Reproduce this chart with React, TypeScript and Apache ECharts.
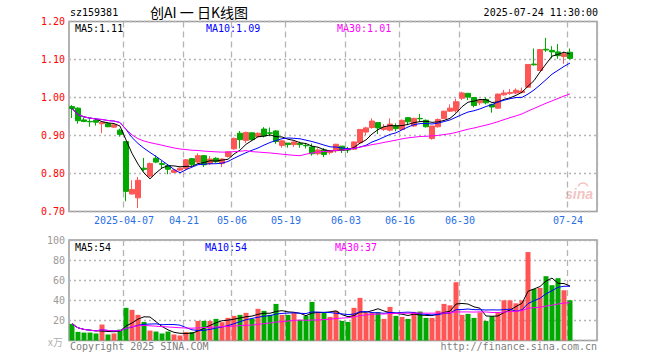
import React, { useEffect, useRef } from 'react';
import * as echarts from 'echarts';

const dates = [
  '03-24','03-25','03-26','03-27','03-28','03-31','04-01','04-02','04-03','04-07',
  '04-08','04-09','04-10','04-11','04-14','04-15','04-16','04-17','04-18','04-21',
  '04-22','04-23','04-24','04-25','04-28','04-29','04-30','05-06','05-07','05-08',
  '05-09','05-12','05-13','05-14','05-15','05-16','05-19','05-20','05-21','05-22',
  '05-23','05-26','05-27','05-28','05-29','05-30','06-03','06-04','06-05','06-06',
  '06-09','06-10','06-11','06-12','06-13','06-16','06-17','06-18','06-19','06-20',
  '06-23','06-24','06-25','06-26','06-27','06-30','07-01','07-02','07-03','07-04',
  '07-07','07-08','07-09','07-10','07-11','07-14','07-15','07-16','07-17','07-18',
  '07-21','07-22','07-23','07-24'
];

const opens = [
  0.976,0.972,0.941,0.937,0.940,0.931,0.931,0.922,0.914,0.884,
  0.746,0.736,0.814,0.793,0.840,0.826,0.821,0.803,0.809,0.813,
  0.839,0.830,0.847,0.826,0.840,0.826,0.845,0.865,0.906,0.887,
  0.907,0.897,0.917,0.907,0.912,0.874,0.880,0.876,0.879,0.874,
  0.870,0.852,0.862,0.855,0.860,0.872,0.863,0.864,0.881,0.909,
  0.921,0.934,0.916,0.914,0.925,0.916,0.947,0.925,0.945,0.940,
  0.892,0.923,0.945,0.964,0.965,0.998,1.011,1.000,0.986,0.995,
  0.982,0.972,1.007,1.011,1.012,1.013,1.027,1.088,1.071,1.127,
  1.124,1.120,1.108,1.119
];
const closes = [
  0.971,0.939,0.937,0.936,0.935,0.935,0.923,0.928,0.903,0.753,
  0.758,0.782,0.811,0.826,0.830,0.824,0.811,0.809,0.814,0.836,
  0.824,0.847,0.823,0.838,0.831,0.838,0.857,0.892,0.889,0.908,
  0.889,0.906,0.899,0.906,0.884,0.886,0.876,0.883,0.876,0.873,
  0.852,0.862,0.850,0.860,0.877,0.861,0.862,0.883,0.916,0.920,
  0.938,0.920,0.922,0.930,0.918,0.940,0.936,0.945,0.944,0.923,
  0.925,0.942,0.964,0.972,0.989,1.012,1.001,0.979,0.993,0.986,
  0.975,1.009,1.012,1.013,1.019,1.017,1.087,1.086,1.126,1.125,
  1.120,1.110,1.115,1.103
];
const lows = [
  0.946,0.931,0.935,0.923,0.926,0.906,0.922,0.920,0.897,0.727,
  0.745,0.709,0.806,0.790,0.827,0.812,0.798,0.801,0.806,0.808,
  0.820,0.826,0.817,0.822,0.828,0.817,0.842,0.862,0.866,0.880,
  0.887,0.895,0.895,0.898,0.878,0.868,0.868,0.870,0.868,0.866,
  0.847,0.848,0.843,0.850,0.855,0.854,0.854,0.862,0.880,0.901,
  0.918,0.904,0.912,0.911,0.911,0.914,0.927,0.923,0.936,0.921,
  0.889,0.921,0.943,0.962,0.960,0.993,0.993,0.974,0.980,0.982,
  0.960,0.970,1.005,1.007,1.009,1.011,1.026,1.084,1.070,1.120,
  1.103,1.102,1.089,1.100
];
const highs = [
  0.980,0.974,0.947,0.943,0.944,0.936,0.934,0.930,0.918,0.884,
  0.782,0.791,0.841,0.829,0.848,0.833,0.824,0.811,0.816,0.838,
  0.841,0.853,0.848,0.846,0.843,0.840,0.858,0.895,0.912,0.910,
  0.908,0.908,0.922,0.921,0.914,0.887,0.880,0.884,0.884,0.880,
  0.879,0.866,0.867,0.861,0.878,0.872,0.870,0.884,0.916,0.923,
  0.945,0.934,0.930,0.945,0.932,0.942,0.947,0.947,0.957,0.942,
  0.925,0.945,0.965,0.982,0.997,1.015,1.011,1.000,0.993,1.000,
  0.982,1.010,1.020,1.022,1.024,1.026,1.088,1.129,1.128,1.157,
  1.135,1.141,1.121,1.129
];
const volumes = [
  16.6,8.6,7.9,7.9,7.0,15.9,6.0,7.0,10.9,32.5,
  30.5,25.5,18.5,9.9,8.9,7.0,8.9,6.0,5.0,8.3,
  8.3,19.5,19.5,19.5,21.5,18.2,22.5,24.5,25.5,27.5,
  21.5,31.5,29.5,25.5,36.4,25.5,25.5,27.5,20.5,24.5,
  38.4,28.5,27.5,23.5,29.5,19.5,18.5,32.5,42.4,27.5,
  27.5,28.0,21.5,33.4,24.5,23.5,21.5,28.5,28.8,22.5,
  22.5,29.5,36.4,35.0,58.0,25.5,26.5,22.5,28.0,19.5,
  24.0,28.0,40.0,40.0,37.0,40.0,88.0,51.3,52.3,64.0,
  55.0,62.0,50.0,40.0
];

const priceMin = 0.7;
const priceMax = 1.2;
const priceStep = 0.1;
const volMin = 0;
const volMax = 100;
const volStep = 20;
const labelDates = ['04-07','04-21','05-06','05-19','06-03','06-16','06-30','07-24'];
const yearPrefix = '2025-';
const slotCount = 88;

const UP = '#ff5555';
const DOWN = '#00a800';
const MONO = '"DejaVu Sans Mono", "Liberation Mono", monospace';

function movingAvg(arr: number[], n: number): number[] {
  return arr.map((_, i) => {
    const s = Math.max(0, i - n + 1);
    let sum = 0;
    for (let j = s; j <= i; j++) sum += arr[j];
    return sum / (i - s + 1);
  });
}

export default function App() {
  const ref = useRef<HTMLDivElement>(null);
  useEffect(() => {
    if (!ref.current) return;
    const chart = echarts.init(ref.current, undefined, { renderer: 'svg' });
    const cats = dates.concat(Array.from({ length: slotCount - dates.length }, (_, i) => ' '.repeat(i + 1)));
    const candle = dates.map((_, i) => [opens[i], closes[i], lows[i], highs[i]]);
    const ma5 = movingAvg(closes, 5);
    const ma10 = movingAvg(closes, 10);
    const ma30 = movingAvg(closes, 30);
    const vma5 = movingAvg(volumes, 5);
    const vma10 = movingAvg(volumes, 10);
    const vma30 = movingAvg(volumes, 30);
    const last = dates.length - 1;
    const volData = volumes.map((v, i) => ({
      value: v,
      itemStyle: { color: closes[i] > opens[i] || (closes[i] === opens[i] && i > 0 && closes[i] >= closes[i - 1]) ? UP : DOWN },
    }));
    const isLabel = (_i: number, v: string) => labelDates.indexOf(v) >= 0;
    const xCommon = (gridIndex: number, showLabel: boolean) => ({
      type: 'category',
      gridIndex,
      data: cats,
      boundaryGap: true,
      axisLine: { show: false },
      axisTick: { show: false },
      splitLine: {
        show: true,
        interval: isLabel,
        lineStyle: { color: '#b4b4b4', type: [6, 4], width: 1.3 },
      },
      axisLabel: showLabel
        ? {
            show: true,
            interval: isLabel,
            formatter: (v: string) => (v === labelDates[0] ? yearPrefix + v : v),
            color: '#2a6fe8',
            fontFamily: MONO,
            fontSize: 10,
            margin: 4,
            padding: [0, 4, 0, 0],
          }
        : { show: false },
    });
    const lineS = (name: string, data: number[], color: string, xi: number, yi: number) => ({
      name,
      type: 'line',
      xAxisIndex: xi,
      yAxisIndex: yi,
      data,
      showSymbol: false,
      symbol: 'none',
      lineStyle: { color, width: 1 },
      z: 5,
      silent: true,
    });
    const txt = (text: string, x: number, y: number, fill: string, size = 10, align = 'left', font = MONO) => ({
      type: 'text',
      x,
      y,
      silent: true,
      style: { text, fill, fontSize: size, fontFamily: font, textAlign: align, textVerticalAlign: 'middle' },
    });
    chart.setOption({
      animation: false,
      backgroundColor: '#ffffff',
      grid: [
        { left: 69, top: 21.5, width: 528, height: 190, show: true, borderColor: '#9a9a9a', borderWidth: 1.5, backgroundColor: 'transparent' },
        { left: 69, top: 240, width: 528, height: 100.5, show: true, borderColor: '#9a9a9a', borderWidth: 1.5, backgroundColor: 'transparent' },
      ],
      xAxis: [xCommon(0, true), xCommon(1, false)],
      yAxis: [
        {
          type: 'value',
          gridIndex: 0,
          min: priceMin,
          max: priceMax,
          interval: priceStep,
          axisLine: { show: false },
          axisTick: { show: false },
          splitLine: { show: true, lineStyle: { color: '#b4b4b4', type: [2, 3], width: 1.3 } },
          axisLabel: { color: '#ff0000', fontFamily: MONO, fontSize: 10, margin: 4, formatter: (v: number) => v.toFixed(2) },
        },
        {
          type: 'value',
          gridIndex: 1,
          min: volMin,
          max: volMax,
          interval: volStep,
          axisLine: { show: false },
          axisTick: { show: false },
          splitLine: { show: true, lineStyle: { color: '#b4b4b4', type: [2, 3], width: 1.3 } },
          axisLabel: { color: '#9a9a9a', fontFamily: MONO, fontSize: 10, margin: 4, formatter: (v: number) => (v === 0 ? '' : String(v)) },
        },
      ],
      series: [
        {
          type: 'candlestick',
          xAxisIndex: 0,
          yAxisIndex: 0,
          data: candle,
          barWidth: 5,
          itemStyle: { color: UP, color0: DOWN, borderColor: UP, borderColor0: DOWN, borderWidth: 1 },
          z: 3,
          silent: true,
        },
        lineS('MA5', ma5, '#000000', 0, 0),
        lineS('MA10', ma10, '#0000ff', 0, 0),
        lineS('MA30', ma30, '#ff00ff', 0, 0),
        {
          type: 'bar',
          xAxisIndex: 1,
          yAxisIndex: 1,
          data: volData,
          barWidth: 5,
          silent: true,
          z: 3,
        },
        lineS('VMA5', vma5, '#000000', 1, 1),
        lineS('VMA10', vma10, '#0000ff', 1, 1),
        lineS('VMA30', vma30, '#ff00ff', 1, 1),
      ],
      graphic: [
        txt('sz159381', 70, 12, '#000000'),
        txt('创AI 一 日K线图', 150, 12, '#000000', 14, 'left', '"Noto Sans CJK SC", sans-serif'),
        txt('2025-07-24 11:30:00', 598, 12, '#000000', 10, 'right'),
        txt('MA5:' + ma5[last].toFixed(2), 75, 28.5, '#000000'),
        txt('MA10:' + ma10[last].toFixed(2), 206, 28.5, '#0000ff'),
        txt('MA30:' + ma30[last].toFixed(2), 337, 28.5, '#ff00ff'),
        txt('MA5:' + Math.round(vma5[last]), 75, 247, '#000000'),
        txt('MA10:' + Math.round(vma10[last]), 205, 247, '#0000ff'),
        txt('MA30:' + Math.round(vma30[last]), 335, 247, '#ff00ff'),
        txt('x万', 48, 341, '#b0b0b0', 10, 'left', '"Noto Sans CJK SC", sans-serif'),
        txt('Copyright 2025 SINA.COM', 70, 346, '#808080'),
        txt('http://finance.sina.com.cn', 597, 346, '#808080', 10, 'right'),
        {
          type: 'text',
          x: 565,
          y: 194,
          silent: true,
          style: { text: 'sina', fill: '#f3c4c4', fontSize: 14, fontStyle: 'italic', fontWeight: 'bold', fontFamily: 'Arial, "Liberation Sans", sans-serif', textVerticalAlign: 'middle' },
        },
        {
          type: 'arc',
          silent: true,
          shape: { cx: 583, cy: 188, r: 5, startAngle: Math.PI * 1.1, endAngle: Math.PI * 1.9 },
          style: { stroke: '#f3c4c4', lineWidth: 1.5, fill: 'none' },
        },
      ],
    });
    return () => chart.dispose();
  }, []);
  return (
    <div
      ref={ref}
      style={{ position: 'fixed', left: 0, top: 0, width: 660, height: 360, background: '#fff' }}
    />
  );
}
